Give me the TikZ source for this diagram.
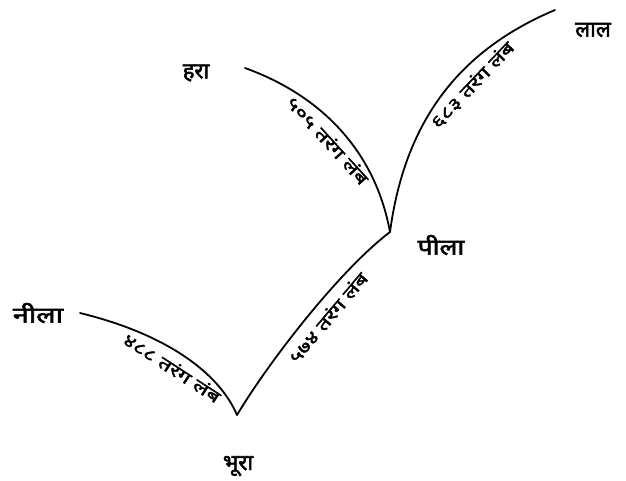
\documentclass[tikz,border=0pt]{standalone}
\usepackage{fontspec}
\newfontfamily\deva[Script=Devanagari,FakeBold=2.5]{Noto Sans}
\newfontfamily\devaw[Script=Devanagari,FakeBold=2]{Noto Sans}
\newcommand\wlabel[1]{\scalebox{1.35}[1]{#1}}
\begin{document}
\begin{tikzpicture}[x=1pt,y=-1pt,
  curve/.style={line width=1.8pt,line cap=round},
  colname/.style={font=\deva\fontsize{22}{22}\selectfont},
  wave/.style={font=\devaw\fontsize{17}{17}\selectfont,sloped,below=7pt,inner sep=1pt}]
\useasboundingbox (0,0) rectangle (626,480);
\coordinate (bhura) at (237,415);
\coordinate (pila) at (390,232);
\coordinate (nilaend) at (80,313);
\coordinate (haraend) at (245,68);
\coordinate (lalend) at (555,10);
\node[colname] (nila) at (38,313) {\scalebox{1.3}[1]{नीला}};
\node[colname] (hara) at (196,73) {हरा};
\node[colname] (lal) at (593,30) {लाल};
\node[colname] (pilaL) at (441,245) {\scalebox{1.2}[1]{पीला}};
\node[colname] (bhuraL) at (238,466) {भूरा};
\draw[curve] (nilaend) .. controls (170,335) and (220,375) .. (bhura)
  node[wave,pos=0.47] {\wlabel{४८८ तरंग लंब}};
\draw[curve] (haraend) .. controls (320,95) and (375,150) .. (pila)
  node[wave,pos=0.5] {\wlabel{५०५ तरंग लंब}};
\draw[curve] (bhura) .. controls (270,360) and (340,270) .. (pila)
  node[wave,pos=0.55] {\wlabel{५७४ तरंग लंब}};
\draw[curve] (pila) .. controls (405,120) and (460,50) .. (lalend)
  node[wave,pos=0.6] {\wlabel{६८३ तरंग लंब}};
\end{tikzpicture}
\end{document}
